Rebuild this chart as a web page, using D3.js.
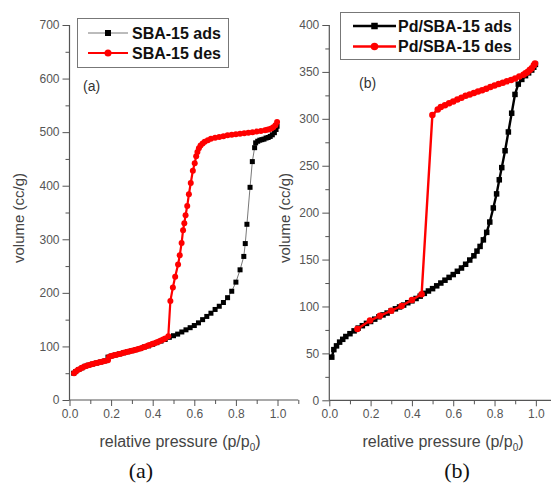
<!DOCTYPE html>
<html>
<head>
<meta charset="utf-8">
<script src="https://cdn.jsdelivr.net/npm/d3@7"></script>
<style>
  html, body { margin: 0; padding: 0; background: #fff; }
  svg { display: block; font-family: Arial, "Liberation Sans", sans-serif; }
</style>
</head>
<body>
<svg id="chart" width="551" height="486"></svg>
<script>
// ---- N2 sorption isotherms: relative pressure p/p0 vs adsorbed volume (cc/g) ----

// SBA-15, adsorption branch
const sbaAdsP = [0.02,0.03,0.045,0.06,0.075,0.09,0.11,0.13,0.15,0.17,0.185,0.2,0.22,0.24,0.26,0.28,0.30,0.32,0.34,0.36,0.38,0.40,0.42,0.44,0.46,0.48,0.50,0.52,0.54,0.56,0.58,0.60,0.62,0.64,0.66,0.68,0.70,0.72,0.74,0.76,0.78,0.80,0.82,0.838,0.845,0.853,0.868,0.879,0.89,0.895,0.905,0.915,0.925,0.935,0.945,0.955,0.965,0.975,0.985,0.993,0.998];
const sbaAdsV = [50,53,57,60,63,65,67,69,71,73,80,82,84,86,88,90,92,94,96,99,101,104,107,110,113,117,120,123,127,131,135,139,144,150,156,162,169,175,182,191,203,220,243,268,292,328,397,445,471,480,483,485,486,487,489,490,492,495,499,505,511];

// SBA-15, desorption branch
const sbaDesP = [0.998,0.99,0.98,0.97,0.96,0.95,0.94,0.92,0.90,0.88,0.86,0.84,0.82,0.80,0.78,0.76,0.74,0.72,0.70,0.68,0.665,0.65,0.64,0.63,0.622,0.615,0.609,0.602,0.593,0.583,0.574,0.566,0.558,0.552,0.546,0.539,0.53,0.522,0.508,0.497,0.485,0.475,0.46,0.45,0.44,0.43,0.42,0.41,0.40,0.39,0.38,0.37,0.36,0.35,0.34,0.33,0.32,0.31,0.30,0.29,0.28,0.27,0.26,0.25,0.24,0.23,0.22,0.21,0.20,0.19,0.185,0.17,0.16,0.15,0.14,0.13,0.12,0.11,0.10,0.09,0.08,0.07,0.06,0.05,0.04,0.03,0.022];
const sbaDesV = [519,513,509,507,505.5,504.5,503.5,502,501,500,499,498,497,496,495,494,492.5,491,489.5,487.5,485,482,479,475,470,463,455,442,428,405,384,362,345,330,317,293,270,253,230,210,185,119,115,113,111,109,108,106,105,103,102,100.5,99,97.5,96,95,94,93,92,91,90,89,88,87,86,85,84,83,82,80.5,74,73,72,71,70,69,68,67,66,65,63.5,62,60,58,56,53,50];

// Pd/SBA-15, adsorption branch
const pdAdsP = [0.012,0.022,0.035,0.05,0.065,0.08,0.1,0.12,0.14,0.16,0.18,0.2,0.22,0.24,0.26,0.28,0.3,0.32,0.34,0.36,0.38,0.40,0.42,0.44,0.46,0.48,0.50,0.52,0.54,0.56,0.58,0.60,0.62,0.64,0.66,0.68,0.70,0.715,0.73,0.746,0.762,0.777,0.794,0.81,0.823,0.835,0.851,0.867,0.883,0.899,0.915,0.932,0.95,0.965,0.98,0.99,0.998];
const pdAdsV = [46,54,58,62,65,68,71,74,77,79.5,82,84,86.5,89,91,93,95.5,97.5,99.5,101.5,104,106,108.5,111,114,116.5,119,122,125,128,131,134,137.5,141,145,149.5,154,159,164,171,179,190,205,220,235,248,266,286,306,326,337,342,346,349,352,355,358];

// Pd/SBA-15, desorption branch
const pdDesP = [0.996,0.99,0.98,0.97,0.96,0.95,0.94,0.92,0.90,0.88,0.86,0.84,0.82,0.80,0.78,0.76,0.74,0.72,0.70,0.68,0.66,0.64,0.62,0.60,0.58,0.56,0.54,0.525,0.499,0.447,0.40,0.35,0.30,0.245,0.197,0.136];
const pdDesV = [359,357,354,352,350,348.5,347,345,343,341.5,340,338.5,337,335.5,334,332,330.5,329,327.5,326,324.5,322.5,320.5,318.5,316.5,314.5,312.5,310,304,113,107,100.5,95.5,90,85,76];

// Axis ticks
const xMajor = [0, 0.2, 0.4, 0.6, 0.8, 1.0];
const xMinor = [0.1, 0.3, 0.5, 0.7, 0.9, 1.1];
const yMajorA = [0, 100, 200, 300, 400, 500, 600, 700];
const yMinorA = [50, 150, 250, 350, 450, 550, 650];
const yMajorB = [0, 50, 100, 150, 200, 250, 300, 350, 400];
const yMinorB = [25, 75, 125, 175, 225, 275, 325, 375];

const zip = (xs, ys) => xs.map((x, i) => ({ x, y: ys[i] }));

const svg = d3.select("#chart");
const axisColor = "#555";
const textColor = "#555";

function panel(cfg) {
  const g = svg.append("g");
  const x = d3.scaleLinear().domain([0, 1.1]).range([cfg.x0, cfg.x1]);
  const y = d3.scaleLinear().domain(cfg.yDomain).range([cfg.yBottom, cfg.yTop]);

  // x axis: majors with labels, minors without
  const xAxis = d3.axisBottom(x).tickValues(cfg.xMajor).tickSize(6).tickPadding(3)
    .tickFormat(d3.format(".1f"));
  const xa = g.append("g").attr("transform", `translate(0,${cfg.yBottom})`).call(xAxis);
  g.append("g").attr("transform", `translate(0,${cfg.yBottom})`)
    .call(d3.axisBottom(x).tickValues(cfg.xMinor).tickSize(4).tickFormat(""))
    .select(".domain").remove();

  const yAxis = d3.axisLeft(y).tickValues(cfg.yMajor).tickSize(7).tickPadding(3);
  const ya = g.append("g").attr("transform", `translate(${cfg.x0},0)`).call(yAxis);
  g.append("g").attr("transform", `translate(${cfg.x0},0)`)
    .call(d3.axisLeft(y).tickValues(cfg.yMinor).tickSize(4).tickFormat(""))
    .select(".domain").remove();

  g.selectAll(".domain").attr("stroke", axisColor).attr("stroke-width", 1.2);
  g.selectAll(".tick line").attr("stroke", axisColor).attr("stroke-width", 1);
  g.selectAll(".tick text").attr("fill", textColor).style("font-size", "12px")
    .style("font-family", "Arial, 'Liberation Sans', sans-serif");
  xa.selectAll("path.domain").attr("d", `M${cfg.x0},0H${cfg.x1}`);
  ya.selectAll("path.domain").attr("d", `M0,${cfg.yBottom}V${cfg.yTop}`);

  // axis titles
  g.append("text")
    .attr("transform", `translate(${cfg.yTitleX},${cfg.yTitleY}) rotate(-90)`)
    .attr("text-anchor", "middle").attr("fill", "#444").style("font-size", "15px")
    .text("volume (cc/g)");
  const xt = g.append("text")
    .attr("x", cfg.xTitleX).attr("y", 447)
    .attr("text-anchor", "middle").attr("fill", "#444").style("font-size", "16px");
  xt.append("tspan").text("relative pressure (p/p");
  xt.append("tspan").attr("dy", 4).style("font-size", "10px").text("0");
  xt.append("tspan").attr("dy", -4).text(")");

  // in-plot panel tag
  g.append("text").attr("x", cfg.tagX).attr("y", cfg.tagY)
    .attr("fill", "#333").style("font-size", "14px").text(cfg.tag);

  // caption below the plot
  g.append("text").attr("x", cfg.capX).attr("y", 478)
    .attr("text-anchor", "middle").attr("fill", "#111")
    .style("font-family", "'Liberation Serif', 'Times New Roman', serif")
    .style("font-size", "22px").text(cfg.tag);

  const line = d3.line().x(d => x(d.x)).y(d => y(d.y));
  const plot = g.append("g");
  cfg.series.forEach(s => {
    const data = zip(s.p, s.v);
    plot.append("path").datum(data).attr("d", line).attr("fill", "none")
      .attr("stroke", s.lineColor).attr("stroke-width", s.lineWidth)
      .attr("stroke-linejoin", "round");
    if (s.shape === "square") {
      plot.append("g").selectAll("rect").data(data).join("rect")
        .attr("x", d => x(d.x) - s.size / 2).attr("y", d => y(d.y) - s.size / 2)
        .attr("width", s.size).attr("height", s.size).attr("fill", s.color);
    } else {
      plot.append("g").selectAll("circle").data(data).join("circle")
        .attr("cx", d => x(d.x)).attr("cy", d => y(d.y)).attr("r", s.size / 2)
        .attr("fill", s.color);
    }
  });

  // legend
  const L = cfg.legend;
  g.append("rect").attr("x", L.x).attr("y", L.y).attr("width", L.w).attr("height", L.h)
    .attr("fill", "#fff").attr("stroke", "#777").attr("stroke-width", 1);
  cfg.series.forEach((s, i) => {
    const cy = L.rowY[i];
    g.append("line").attr("x1", L.lx1).attr("x2", L.lx2).attr("y1", cy).attr("y2", cy)
      .attr("stroke", s.lineColor).attr("stroke-width", s.lineWidth);
    const mx = (L.lx1 + L.lx2) / 2;
    if (s.shape === "square") {
      g.append("rect").attr("x", mx - (s.size + 1) / 2).attr("y", cy - (s.size + 1) / 2)
        .attr("width", s.size + 1).attr("height", s.size + 1).attr("fill", s.color);
    } else {
      g.append("circle").attr("cx", mx).attr("cy", cy).attr("r", (s.size + 1) / 2)
        .attr("fill", s.color);
    }
    g.append("text").attr("x", L.tx).attr("y", cy).attr("dy", "0.36em")
      .attr("fill", "#111").style("font-size", "16px").style("font-weight", "bold")
      .text(s.name);
  });
}

panel({
  x0: 69.5, x1: 298.3, yBottom: 400, yTop: 25, yDomain: [0, 700],
  xMajor, xMinor, yMajor: yMajorA, yMinor: yMinorA,
  yTitleX: 24, yTitleY: 218, xTitleX: 180,
  tag: "(a)", tagX: 83, tagY: 91, capX: 141,
  series: [
    { name: "SBA-15 ads", p: sbaAdsP, v: sbaAdsV, shape: "square", color: "#000",
      lineColor: "#555", lineWidth: 0.8, size: 5 },
    { name: "SBA-15 des", p: sbaDesP, v: sbaDesV, shape: "circle", color: "#ff0000",
      lineColor: "#ff0000", lineWidth: 2.2, size: 6 }
  ],
  legend: { x: 77.5, y: 18.5, w: 151, h: 49, rowY: [33, 53], lx1: 88, lx2: 128, tx: 132 }
});

panel({
  x0: 329.3, x1: 556.5, yBottom: 400.3, yTop: 25, yDomain: [0, 400],
  xMajor, xMinor, yMajor: yMajorB, yMinor: yMinorB,
  yTitleX: 290, yTitleY: 218, xTitleX: 443,
  tag: "(b)", tagX: 359, tagY: 88, capX: 457,
  series: [
    { name: "Pd/SBA-15 ads", p: pdAdsP, v: pdAdsV, shape: "square", color: "#000",
      lineColor: "#000", lineWidth: 2.4, size: 5.5 },
    { name: "Pd/SBA-15 des", p: pdDesP, v: pdDesV, shape: "circle", color: "#ff0000",
      lineColor: "#ff0000", lineWidth: 2.4, size: 6.5 }
  ],
  legend: { x: 340.5, y: 12.5, w: 179, h: 47, rowY: [26, 46.5], lx1: 353, lx2: 396, tx: 398 }
});
</script>
</body>
</html>
